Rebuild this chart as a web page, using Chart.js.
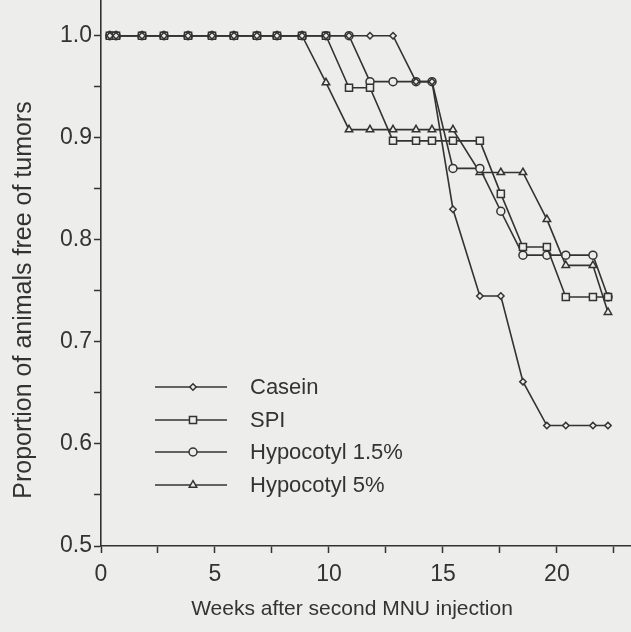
<!DOCTYPE html>
<html>
<head>
<meta charset="utf-8">
<script src="https://cdn.jsdelivr.net/npm/chart.js@4/dist/chart.umd.min.js"></script>
<style>
  html, body { margin: 0; padding: 0; background: #ededeb; overflow: hidden; }
  canvas { display: block; }
</style>
</head>
<body>
<canvas id="survivalChart" width="631" height="632"></canvas>
<script>
// time points (weeks after second MNU injection)
const weeks = [0.39, 0.66, 1.80, 2.76, 3.82, 4.87, 5.83, 6.84, 7.72, 8.82, 9.87, 10.88,
  11.80, 12.81, 13.82, 14.52, 15.44, 16.62, 17.54, 18.51, 19.56, 20.39, 21.58, 22.24];

const casein = [1, 1, 1, 1, 1, 1, 1, 1, 1, 1, 1, 1, 1, 1,
  0.955, 0.955, 0.830, 0.745, 0.745, 0.661, 0.618, 0.618, 0.618, 0.618];
const spi = [1, 1, 1, 1, 1, 1, 1, 1, 1, 1, 1,
  0.949, 0.949, 0.897, 0.897, 0.897, 0.897, 0.897, 0.845, 0.793, 0.793, 0.744, 0.744, 0.744];
const hypocotyl15 = [1, 1, 1, 1, 1, 1, 1, 1, 1, 1, 1, 1,
  0.955, 0.955, 0.955, 0.955, 0.870, 0.870, 0.828, 0.785, 0.785, 0.785, 0.785, 0.744];
const hypocotyl5 = [1, 1, 1, 1, 1, 1, 1, 1, 1, 1,
  0.954, 0.908, 0.908, 0.908, 0.908, 0.908, 0.908, 0.866, 0.866, 0.866, 0.820, 0.775, 0.775, 0.729];

const seriesNames = ["Casein", "SPI", "Hypocotyl 1.5%", "Hypocotyl 5%"];
const xTicks = [0, 2.5, 5, 7.5, 10, 12.5, 15, 17.5, 20, 22.5];
const yTicks = [0.5, 0.55, 0.6, 0.65, 0.7, 0.75, 0.8, 0.85, 0.9, 0.95, 1.0];

const ink = "#333333";
const paper = "#ededeb";
const font = '"Liberation Sans", Arial, sans-serif';

function toPoints(values) {
  return weeks.map((w, i) => ({ x: w, y: values[i] }));
}

function makeDataset(label, values, style, radius) {
  return {
    label: label,
    data: toPoints(values),
    borderColor: ink,
    borderWidth: 1.6,
    backgroundColor: paper,
    pointStyle: style,
    pointRadius: radius,
    pointBorderWidth: 1.5,
    pointBackgroundColor: paper,
    pointBorderColor: ink,
    tension: 0,
    fill: false
  };
}

const datasets = [
  makeDataset(seriesNames[0], casein, "rectRot", 3.2),
  makeDataset(seriesNames[1], spi, "rect", 5),
  makeDataset(seriesNames[2], hypocotyl15, "circle", 4),
  makeDataset(seriesNames[3], hypocotyl5, "triangle", 4.3)
];

const isMajor = (v, step) => Math.abs(v / step - Math.round(v / step)) < 1e-6;

// paper background, axis titles and the inset legend
const paperPlugin = {
  id: "paperPlugin",
  beforeDraw(chart) {
    const ctx = chart.ctx;
    ctx.save();
    ctx.fillStyle = paper;
    ctx.fillRect(0, 0, chart.width, chart.height);
    ctx.restore();
  },
  afterDraw(chart) {
    const ctx = chart.ctx;
    ctx.save();
    ctx.fillStyle = ink;
    ctx.textBaseline = "middle";

    ctx.font = "21px " + font;
    ctx.textAlign = "center";
    ctx.fillText("Weeks after second MNU injection", 352, 609);

    ctx.save();
    ctx.translate(24, 300);
    ctx.rotate(-Math.PI / 2);
    ctx.font = "25px " + font;
    ctx.fillText("Proportion of animals free of tumors", 0, 0);
    ctx.restore();

    const rows = [387, 420, 452, 485];
    ctx.font = "22px " + font;
    ctx.textAlign = "left";
    chart.data.datasets.forEach((ds, i) => {
      const y = rows[i];
      ctx.strokeStyle = ink;
      ctx.lineWidth = 1.6;
      ctx.beginPath();
      ctx.moveTo(155, y);
      ctx.lineTo(227, y);
      ctx.stroke();
      ctx.fillStyle = paper;
      ctx.strokeStyle = ink;
      ctx.lineWidth = 1.5;
      Chart.helpers.drawPoint(ctx, { pointStyle: ds.pointStyle, radius: ds.pointRadius, rotation: 0, borderWidth: 1.5 }, 193, y);
      ctx.fillStyle = ink;
      ctx.fillText(ds.label, 250, y + 1);
    });
    ctx.restore();
  }
};

const ctx = document.getElementById("survivalChart").getContext("2d");
new Chart(ctx, {
  type: "line",
  data: { datasets: datasets },
  plugins: [paperPlugin],
  options: {
    responsive: false,
    devicePixelRatio: 1,
    animation: false,
    layout: { padding: 0, autoPadding: false },
    plugins: {
      legend: { display: false },
      tooltip: { enabled: false }
    },
    scales: {
      x: {
        type: "linear",
        min: 0,
        max: 23.25,
        afterBuildTicks: (scale) => { scale.ticks = xTicks.map((v) => ({ value: v })); },
        afterFit: (scale) => {
          scale.height = 86;
          scale.paddingLeft = 0;
          scale.paddingRight = 0;
        },
        grid: { drawOnChartArea: false, drawTicks: true, tickLength: 7, tickColor: ink, tickWidth: 1.5 },
        border: { display: true, color: ink, width: 1.6 },
        ticks: {
          autoSkip: false,
          maxRotation: 0,
          padding: 8,
          color: ink,
          font: { family: font, size: 23 },
          callback: (v) => (isMajor(v, 5) ? String(v) : "")
        }
      },
      y: {
        min: 0.5,
        max: 1.035,
        afterBuildTicks: (scale) => { scale.ticks = yTicks.map((v) => ({ value: v })); },
        afterFit: (scale) => {
          scale.width = 101;
          scale.paddingTop = 0;
          scale.paddingBottom = 0;
        },
        grid: { drawOnChartArea: false, drawTicks: true, tickLength: 7, tickColor: ink, tickWidth: 1.5 },
        border: { display: true, color: ink, width: 1.6 },
        ticks: {
          autoSkip: false,
          padding: 2,
          color: ink,
          font: { family: font, size: 23 },
          callback: (v) => (isMajor(v, 0.1) ? v.toFixed(1) : "")
        }
      }
    }
  }
});
</script>
</body>
</html>
